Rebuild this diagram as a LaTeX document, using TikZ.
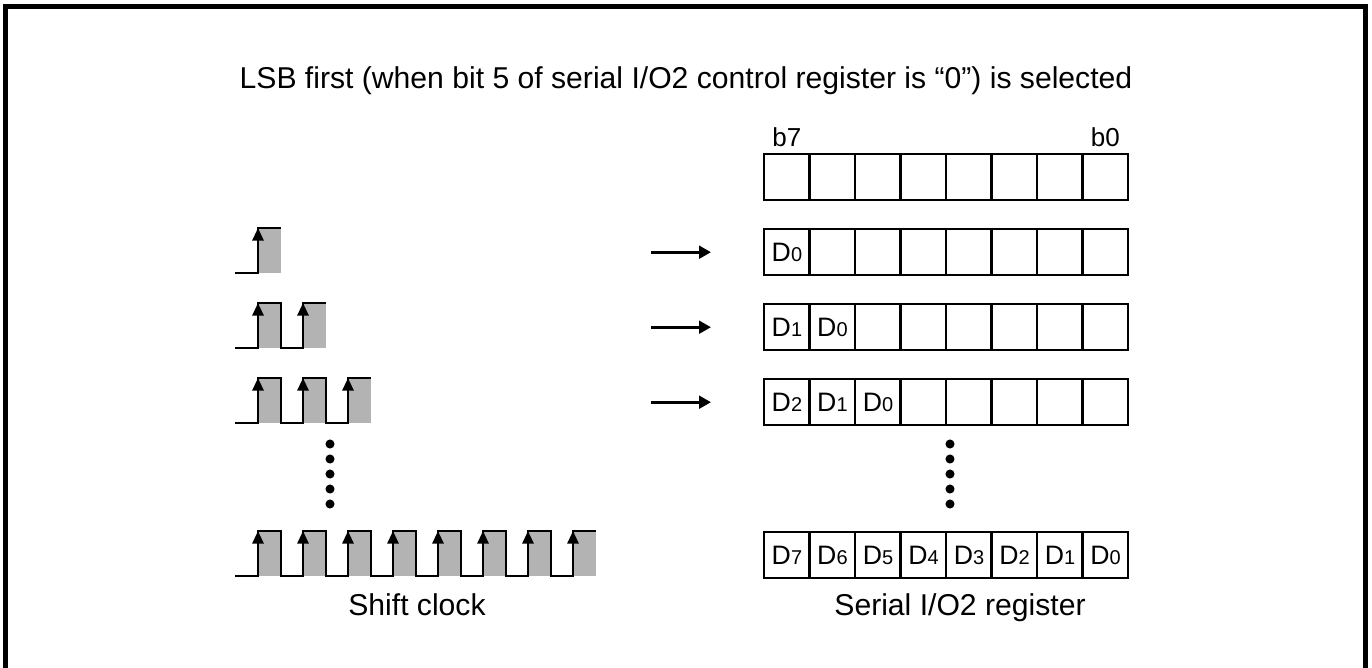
\documentclass[tikz,border=0pt]{standalone}
\usepackage{fontspec}
\setmainfont{Liberation Sans}
\usetikzlibrary{arrows.meta}
\definecolor{pulsegray}{RGB}{179,179,179}
\newcommand{\bitlbl}[1]{D{\fontsize{15}{16}\selectfont #1}}

\begin{document}
\begin{tikzpicture}[x=0.75pt,y=-0.75pt,
  regcell/.style={draw,line width=1.8pt,minimum width=34.1pt,minimum height=34.5pt,
    inner sep=0pt,anchor=north west,font=\fontsize{20}{22}\selectfont},
  bitcap/.style={anchor=base,font=\fontsize{19.5}{22}\selectfont},
  caption/.style={anchor=base,font=\fontsize{22.6}{26}\selectfont},
  clkline/.style={line width=1.5pt},
  edgearrow/.style={clkline,-{Triangle[length=9.5pt,width=8.5pt]}},
  shiftarrow/.style={line width=2.2pt,-{Triangle[length=9pt,width=9.5pt]}}]
\useasboundingbox (0,0) rectangle (1372,668);
% frame
\draw[line width=3.75pt] (5.5,668) -- (5.5,6) -- (1365.5,6) -- (1365.5,668);
\node[caption] (title) at (686,88)
  {LSB first (when bit 5 of serial I/O2 control register is “0”) is selected};
% register rows
\foreach \rowy/\n [count=\k] in {153/0,228/1,303/2,378/3,531/8} {
  \foreach \i in {0,...,7} {
    \pgfmathtruncatemacro{\d}{\n-1-\i}
    \ifnum\i<\n \def\lbl{\bitlbl{\d}}\else \def\lbl{}\fi
    \node[regcell] (r\k c\i) at (763+45.5*\i,\rowy) {\lbl};
  }
}
\node[bitcap] (b7) at ([yshift=5pt]r1c0.north) {b7};
\node[bitcap] (b0) at ([yshift=5pt]r1c7.north) {b0};
% shift clock rows
\foreach \rowy/\n in {228/1,303/2,378/3,531/8} {
  \pgfmathsetmacro{\lowy}{\rowy+45}
  \foreach \j in {1,...,\n}
    \fill[pulsegray] ({258+45*(\j-1)},\rowy) rectangle ({281+45*(\j-1)},\lowy);
  \draw[clkline] (235,\lowy) foreach \j in {1,...,\n} {
    -- ({236+45*(\j-1)},\lowy) -- ({258+45*(\j-1)},\lowy)
    -- ({258+45*(\j-1)},\rowy) -- ({281+45*(\j-1)},\rowy)};
  \foreach \j in {1,...,\n}
    \draw[edgearrow] ({258+45*(\j-1)},\lowy) -- ({258+45*(\j-1)},\rowy);
}
% arrows to register
\foreach \k in {2,3,4} {
  \coordinate (from\k) at ([xshift=-84pt]r\k c0.west);
  \coordinate (to\k) at ([xshift=-39pt]r\k c0.west);
  \draw[shiftarrow] (from\k) -- (to\k);
}
% dots
\foreach \y in {444,459,...,504} {
  \fill (330,\y) circle (3.4pt);
  \fill (950,\y) circle (3.4pt);
}
\node[caption] (clkcap) at (417,615) {Shift clock};
\node[caption] (regcap) at (960,615) {Serial I/O2 register};
\end{tikzpicture}
\end{document}
